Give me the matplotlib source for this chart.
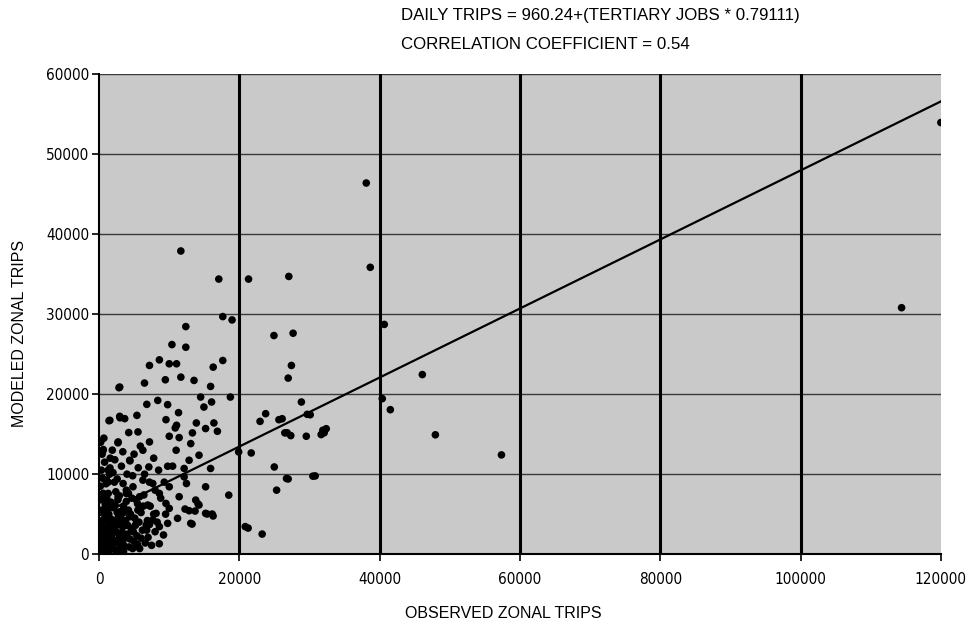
import matplotlib
matplotlib.use("Agg")
import matplotlib.pyplot as plt

# ---- data ----
observed_x = [
    11670, 17080, 21320, 27060, 17650, 18970, 12380, 24940, 27670, 10400,
    12380, 8610, 7200, 10020, 11060, 16280, 17650, 27430, 26970, 6490,
    9460, 11670, 13550, 2960, 15910, 14490, 18730, 14960, 16050, 6820,
    8380, 9790, 28850, 11340, 1550, 2960, 3670, 5410, 9550, 11060,
    10870, 13880, 16380, 23760, 22960, 25650, 29690, 15200, 16880, 4240,
    5560, 10020, 13320, 26490, 27340, 29550, 31910, 31670, 7200, 6260,
    2730, 610, 11430, 13080, 19910, 21700, 2260, 4380, 7110, 9790,
    11000, 12850, 14260, 12140, 15910, 24990, 10500, 1320, 26730, 30490,
    25320, 18500, 15200, 13790, 14260, 12140, 12470, 10020, 11430, 9550,
    10020, 12850, 15200, 16140, 11200, 13080, 20850, 8140, 8610, 7670,
    6260, 4850, 3440, 2730, 3900, 5790, 6960, 5550, 4380, 3200,
    2020, 1320, 1080, 850, 1550, 2490, 3440, 5320, 6730, 7670,
    8610, 9790,
    38100, 38670, 40670, 46090, 40380, 41530, 47950, 26110, 26830, 30110,
    32100, 32390, 57370, 26970, 30820, 120000, 114400, 21260, 23260, 13270,
    12270, 13700, 14130, 15410, 16270,
    2850, 1430, 3000, 570, 2710, 4420, 1570,
    300, 500, 800, 1000, 1200, 1500, 1800, 2000, 2200, 2500,
    2800, 3000, 3300, 3600, 4000, 4300, 4600, 5000, 5400, 5800,
    6200, 6600, 7000, 7500, 8000, 8600, 9200, 400, 600, 900,
    1100, 1400, 1700, 2100, 2400, 2700, 3100, 3500, 3900, 4200,
    4700, 5100, 5500, 6000, 6400, 6900, 7300, 7800, 8300, 200,
    500, 800, 1300, 1600, 2000, 2600, 3200, 4000, 4800, 5600,
    6500, 7200, 8000, 8800, 9500, 700, 1900, 3400, 5000, 5900,
    7800, 8500, 9300, 200, 600, 1300, 2400, 3500, 100, 150,
    300, 250, 1000, 1600, 2900, 3800, 4400, 5200, 6000, 7200,
    1400, 2300, 700, 900, 3000,
    200, 400, 700, 900, 1100, 1300, 1500, 1700, 1900, 2100,
    2300, 2500, 2700, 2900, 3100, 3300, 3500, 3700, 3900, 4100,
    4500, 4900, 5300, 5700, 6300, 6800, 600, 1000, 1500, 2200,
    1200, 350, 450, 250, 800, 1600, 2600, 3400, 4800, 5500,
    600, 1900, 3200, 2600, 4200,
]
modeled_y = [
    37900, 34390, 34390, 34720, 29700, 29280, 28450, 27330, 27620, 26200,
    25870, 24290, 23590, 23800, 23800, 23380, 24210, 23590, 22010, 21390,
    21800, 22130, 21720, 20890, 20970, 19640, 19640, 18390, 19020, 18730,
    19220, 18690, 19020, 17690, 16730, 17230, 16940, 17350, 16810, 16110,
    15780, 16400, 16400, 17560, 16600, 16810, 17480, 15700, 15360, 15200,
    15280, 14740, 15160, 15160, 14820, 14740, 15490, 14950, 14030, 12990,
    14030, 13080, 14570, 13820, 12780, 12650, 11800, 11740, 10900, 10990,
    12990, 11740, 12370, 10710, 10710, 10900, 11000, 10500, 9460, 9750,
    8000, 7380, 8420, 6760, 6140, 9660, 8830, 8420, 7180, 6340,
    5720, 5430, 5100, 5010, 4480, 3850, 3440, 5100, 7590, 8830,
    9250, 8420, 8830, 7180, 7590, 7180, 6140, 5510, 4680, 5100,
    5930, 7590, 9250, 4270, 3850, 3640, 3440, 3850, 3640, 4270,
    3440, 3850,
    46400, 35860, 28720, 22450, 19440, 18060, 14920, 16930, 15170, 17430,
    15170, 15680, 12410, 9400, 9780, 53960, 30810, 3260, 2510, 3760,
    5640, 5390, 6270, 5020, 4770,
    20810, 16680, 17050, 12920, 13920, 11660, 10780,
    1000, 2000, 500, 1500, 3000, 800, 2200, 1200, 4000, 2800,
    600, 1800, 3500, 1000, 2500, 900, 3200, 1600, 2300, 700,
    3000, 1400, 2100, 1100, 2800, 1300, 2400, 5500, 4300, 6200,
    7000, 5000, 6500, 5800, 7800, 6800, 4800, 6000, 8000, 5500,
    7000, 4500, 6300, 5200, 7400, 4200, 6000, 5000, 4000, 8500,
    9500, 11500, 9000, 12000, 10200, 9400, 11000, 10000, 9800, 10800,
    10000, 9000, 8000, 7000, 5000, 14500, 13000, 12800, 12500, 13500,
    12000, 10500, 9000, 300, 200, 300, 400, 300, 2500, 4000,
    6800, 3200, 2600, 3800, 2400, 4200, 1900, 3600, 2000, 3700,
    1600, 1700, 3400, 900, 5300,
    1500, 3800, 2600, 4800, 1900, 5600, 2900, 4400, 900, 3300,
    6100, 1500, 4500, 7300, 900, 2700, 5200, 2000, 6600, 3600,
    5000, 2800, 6800, 4000, 6000, 3000, 7600, 8800, 10000, 9000,
    6400, 10500, 12500, 14000, 500, 600, 200, 1300, 700, 1200,
    1300, 2600, 4000, 5200, 7600,
]

# trend line end points
trend_x = [0, 120000]
trend_y = [4820, 56600]

x_ticks = [0, 20000, 40000, 60000, 80000, 100000, 120000]
y_ticks = [0, 10000, 20000, 30000, 40000, 50000, 60000]

equation_text = "DAILY TRIPS = 960.24+(TERTIARY JOBS * 0.79111)"
corr_text = "CORRELATION COEFFICIENT = 0.54"
x_label = "OBSERVED ZONAL TRIPS"
y_label = "MODELED ZONAL TRIPS"

# ---- figure ----
plt.rcParams['font.family'] = ['Liberation Sans', 'DejaVu Sans']
fig = plt.figure(figsize=(9.76, 6.29), dpi=100)
ax = fig.add_axes([0.1014, 0.119, 0.8626, 0.763])

ax.set_facecolor('#c9c9c9')
ax.set_xlim(0, 120000)
ax.set_ylim(0, 60000)

# grid
for yv in y_ticks[1:]:
    ax.axhline(yv, color='#3a3a3a', lw=1.0, zorder=1)
for xv in x_ticks[1:-1]:
    ax.axvline(xv, color='black', lw=2.2, zorder=1)

ax.scatter(observed_x, modeled_y, s=30, marker='o', color='black',
           edgecolors='none', zorder=3, clip_on=True)
ax.plot(trend_x, trend_y, color='black', lw=1.6, zorder=4)

ax.set_xticks(x_ticks)
ax.set_yticks(y_ticks)
ax.set_xticklabels([str(v) for v in x_ticks])
ax.set_yticklabels([str(v) for v in y_ticks])
ax.tick_params(axis='both', direction='out', length=5, width=1.2,
               colors='black')
ax.tick_params(axis='x', pad=8)
ax.tick_params(axis='y', pad=2)
for lab in ax.get_xticklabels() + ax.get_yticklabels():
    lab.set_family('DejaVu Sans')
    lab.set_stretch('condensed')
    lab.set_fontsize(11)

for s in ['top', 'right']:
    ax.spines[s].set_visible(False)
for s in ['left', 'bottom']:
    ax.spines[s].set_linewidth(1.5)
    ax.spines[s].set_color('black')

fig.text(0.516, 0.025, x_label, ha='center', va='center', fontsize=11.5)
fig.text(0.020, 0.47, y_label, ha='center', va='center', rotation=90,
         fontsize=11.5)
fig.text(0.411, 0.975, equation_text, ha='left', va='center', fontsize=12.2)
fig.text(0.411, 0.929, corr_text, ha='left', va='center', fontsize=12.2)

fig.savefig('out.png', dpi=100)
